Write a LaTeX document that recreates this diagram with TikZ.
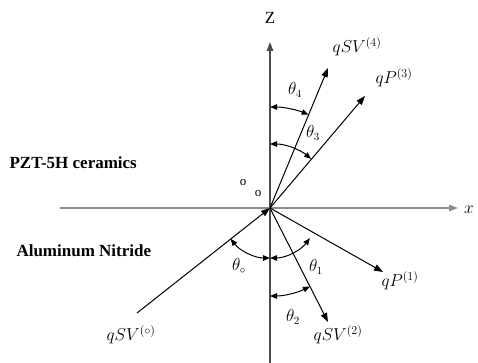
\documentclass[tikz,border=0pt]{standalone}
\usepackage{fontspec}
\setmainfont{Liberation Serif}
\usetikzlibrary{arrows.meta}
\tikzset{
  axisline/.style={line width=1.4pt, draw=gray!90},
  ray/.style={line width=1pt, ->},
  anglearc/.style={line width=1pt, <->, >={Triangle[length=7pt,width=5.5pt]}},
  wavelabel/.style={font=\fontsize{17}{19}\selectfont},
  anglelabel/.style={font=\fontsize{16}{18}\selectfont},
  medium/.style={font=\fontsize{17}{19}\selectfont\bfseries, anchor=west}
}
\begin{document}
\begin{tikzpicture}[x=1pt, y=1pt, line join=round, >={Triangle[length=9pt,width=6.5pt]}]
			\useasboundingbox (-270,-155) rectangle (208,208);
			\coordinate (O) at (0,0);
			% axes
			\coordinate (zbot) at (0,-155);
			\coordinate (ztop) at (0,166);
			\coordinate (xleft) at (-210,0);
			\coordinate (xright) at (188,0);
			\draw[axisline, draw=gray!60!black, ->] (zbot) -- (ztop);
			\draw[axisline, ->] (xleft) -- (xright);
			\node[font=\fontsize{17}{19}\selectfont] (zlab) at (0,190) {Z};
			\node[font=\fontsize{19}{21}\selectfont] (xlab) at (199,-2) {$x$};
			% upper medium
			\coordinate (sv4) at (58,140);
			\coordinate (p3) at (95,112);
			\draw[ray] (O) -- (sv4);
			\draw[ray] (O) -- (p3);
			\node[wavelabel] (sv4lab) at (87,161) {$qSV^{(4)}$};
			\node[wavelabel] (p3lab) at (124,130) {$qP^{(3)}$};
			\draw[anglearc] (67.5:101) arc (67.5:90:101);
			\draw[anglearc] (50:64) arc (50:90:64);
			\node[anglelabel] (t4) at (25,118) {$\theta_4$};
			\node[anglelabel] (t3) at (43,75) {$\theta_3$};
			\node[font=\fontsize{13}{15}\selectfont] (o1) at (-27,25) {o};
			\node[font=\fontsize{13}{15}\selectfont] (o2) at (-12,14) {o};
			% lower medium
			\coordinate (p1) at (113,-64);
			\coordinate (sv2) at (58,-114);
			\coordinate (sv0) at (-133,-105);
			\draw[ray] (O) -- (p1);
			\draw[ray] (O) -- (sv2);
			\draw[ray] (sv0) -- (O);
			\node[wavelabel] (p1lab) at (130,-73) {$qP^{(1)}$};
			\node[wavelabel] (sv2lab) at (68,-127) {$qSV^{(2)}$};
			\node[wavelabel] (sv0lab) at (-139,-127) {$qSV^{(\circ)}$};
			\draw[anglearc] (218:50) arc (218:270:50);
			\draw[anglearc] (323:50) arc (323:270:50);
			\draw[anglearc] (297:88) arc (297:270:88);
			\node[anglelabel] (t0) at (-31,-58) {$\theta_\circ$};
			\node[anglelabel] (t1) at (46,-59) {$\theta_1$};
			\node[anglelabel] (t2) at (23,-109) {$\theta_2$};
			% media
			\node[medium] (pzt) at (-264,45) {PZT-5H ceramics};
			\node[medium] (aln) at (-257,-43) {Aluminum Nitride};
\end{tikzpicture}
\end{document}
